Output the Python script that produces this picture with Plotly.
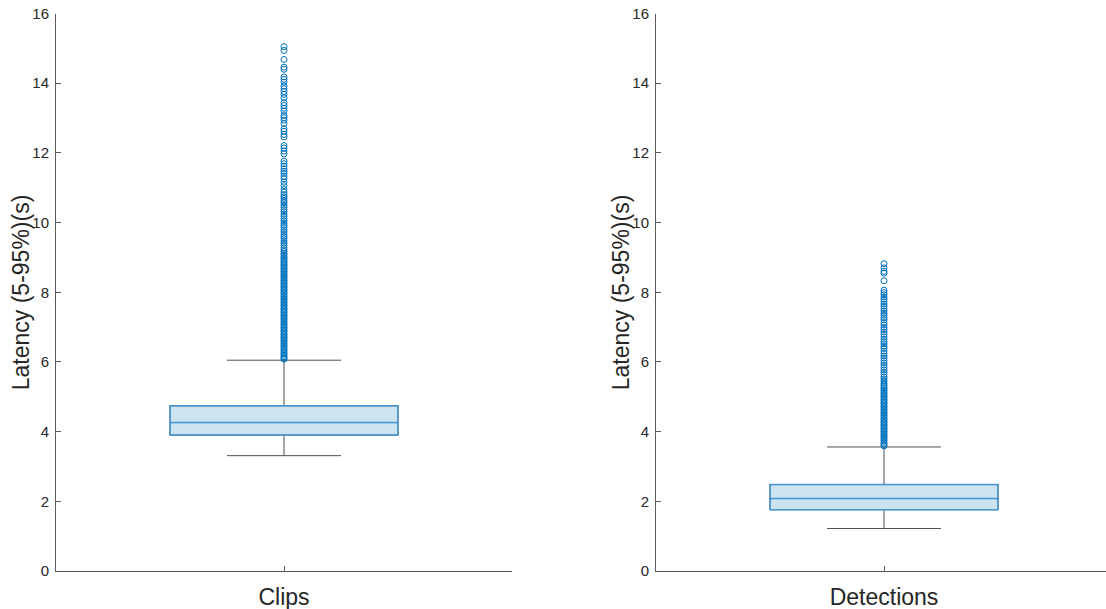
import plotly.graph_objects as go

# ---------------- data ----------------
categories = ["Clips", "Detections"]

q1 = [3.90, 1.76]
median = [4.26, 2.08]
q3 = [4.74, 2.48]
lower_whisker = [3.31, 1.22]
upper_whisker = [6.05, 3.56]

clips_outliers = [
    15.05, 14.94, 14.68, 14.46, 14.40, 14.18, 14.11, 14.03, 13.92, 13.84,
    13.76, 13.68, 13.58, 13.44, 13.36, 13.28, 13.20, 13.07, 13.01, 12.94,
    12.84, 12.69, 12.62, 12.53, 12.46, 12.21, 12.14, 12.05, 11.97, 11.76,
    11.69, 11.62, 11.54, 11.47, 11.41, 11.33, 11.26, 11.16, 11.06, 10.95,
    10.87, 10.80, 10.74, 10.69, 10.62, 10.57, 10.50, 10.44, 10.37, 10.31,
    10.24, 10.18, 10.11, 10.05, 9.98, 9.92, 9.86, 9.79, 9.73, 9.66,
    9.60, 9.54, 9.47, 9.41, 9.35, 9.28, 9.22, 9.17, 9.12, 9.08,
    9.03, 8.98, 8.94, 8.89, 8.85, 8.80, 8.76, 8.71, 8.67, 8.62,
    8.58, 8.53, 8.49, 8.44, 8.40, 8.35, 8.31, 8.26, 8.22, 8.17,
    8.13, 8.08, 8.04, 7.99, 7.95, 7.90, 7.86, 7.81, 7.77, 7.72,
    7.68, 7.63, 7.59, 7.54, 7.50, 7.45, 7.41, 7.36, 7.32, 7.27,
    7.23, 7.18, 7.14, 7.09, 7.05, 7.00, 6.96, 6.91, 6.87, 6.82,
    6.78, 6.73, 6.69, 6.64, 6.60, 6.55, 6.51, 6.46, 6.42, 6.37,
    6.33, 6.28, 6.24, 6.19, 6.15, 6.11, 6.08,
]

detections_outliers = [
    8.82, 8.70, 8.60, 8.55, 8.33, 8.06, 7.99, 7.93, 7.86, 7.80,
    7.73, 7.66, 7.60, 7.53, 7.46, 7.40, 7.34, 7.27, 7.21, 7.13,
    7.06, 6.99, 6.93, 6.86, 6.79, 6.72, 6.65, 6.58, 6.52, 6.45,
    6.39, 6.31, 6.24, 6.17, 6.11, 6.04, 5.97, 5.91, 5.84, 5.77,
    5.71, 5.64, 5.57, 5.51, 5.45, 5.39, 5.34, 5.29, 5.25, 5.20,
    5.16, 5.11, 5.07, 5.02, 4.98, 4.93, 4.89, 4.84, 4.80, 4.75,
    4.71, 4.66, 4.62, 4.57, 4.53, 4.48, 4.44, 4.39, 4.35, 4.30,
    4.26, 4.21, 4.17, 4.12, 4.08, 4.03, 3.99, 3.94, 3.90, 3.85,
    3.81, 3.76, 3.72, 3.67, 3.63, 3.59,
]
outliers = [clips_outliers, detections_outliers]

y_ticks = [0, 2, 4, 6, 8, 10, 12, 14, 16]
y_title = "Latency (5-95%)(s)"

# ---------------- style ----------------
BLUE = "#0072BD"
EDGE = "#4696d3"
FILL = "rgba(0,114,189,0.2)"
WHISK = "#4d4d4d"
TEXT = "#262626"
AXIS = "#5a5a5a"
FONT = "Liberation Sans, Arial, Helvetica, sans-serif"

W, H = 1106, 609
x_domains = [[56 / W, 512 / W], [656 / W, 1.0]]
y_domain = [(H - 571) / H, (H - 13.5) / H]
axis_px = 456.0
title_x_px = [21, 621]

fig = go.Figure()

for i, cat in enumerate(categories):
    xa = "x" if i == 0 else "x2"
    ya = "y" if i == 0 else "y2"
    # whiskers (gray)
    fig.add_trace(go.Box(
        x=[1], q1=[q1[i]], median=[median[i]], q3=[q3[i]],
        lowerfence=[lower_whisker[i]], upperfence=[upper_whisker[i]],
        width=1.0, whiskerwidth=0.5, boxpoints=False,
        line=dict(color=WHISK, width=1), fillcolor="rgba(0,0,0,0)",
        xaxis=xa, yaxis=ya, showlegend=False, hoverinfo="skip",
    ))
    # box (blue)
    fig.add_trace(go.Box(
        x=[1], q1=[q1[i]], median=[median[i]], q3=[q3[i]],
        lowerfence=[q1[i]], upperfence=[q3[i]],
        width=1.0, whiskerwidth=0, boxpoints=False,
        line=dict(color=EDGE, width=1.5), fillcolor=FILL,
        xaxis=xa, yaxis=ya, showlegend=False,
    ))
    # outliers
    fig.add_trace(go.Scatter(
        x=[1] * len(outliers[i]), y=outliers[i], mode="markers",
        marker=dict(symbol="circle-open", size=6, color=BLUE,
                    line=dict(width=1, color=BLUE)),
        xaxis=xa, yaxis=ya, showlegend=False,
    ))
    # y-axis title
    fig.add_annotation(
        text=y_title, textangle=-90, xref="paper", yref="paper",
        x=title_x_px[i] / W, y=sum(y_domain) / 2,
        xanchor="center", yanchor="middle", showarrow=False,
        font=dict(size=23, color=TEXT, family=FONT),
    )

common_y = dict(
    range=[0, 16], tickvals=y_ticks, ticks="inside", ticklen=5,
    tickcolor=AXIS, showline=True, linecolor=AXIS, linewidth=1,
    showgrid=False, zeroline=False, domain=y_domain,
    tickfont=dict(size=15, color=TEXT, family=FONT),
    ticklabelstandoff=3,
    automargin=False,
)
common_x = dict(
    ticks="inside", ticklen=5, tickcolor=AXIS, showline=True, linecolor=AXIS,
    linewidth=1, showgrid=False, zeroline=False, tickvals=[1],
    tickfont=dict(size=23, color=TEXT, family=FONT), automargin=False,
    ticklabelstandoff=5,
)

fig.update_layout(
    width=W, height=H,
    margin=dict(l=0, r=0, t=0, b=0),
    paper_bgcolor="white", plot_bgcolor="white",
    boxmode="overlay",
    font=dict(family=FONT, color=TEXT),
    xaxis=dict(common_x, domain=x_domains[0], range=[0, 2], ticktext=[categories[0]], anchor="y"),
    xaxis2=dict(common_x, domain=x_domains[1],
                range=[0, (x_domains[1][1] - x_domains[1][0]) * W / (axis_px / 2)],
                ticktext=[categories[1]], anchor="y2"),
    yaxis=dict(common_y, anchor="x"),
    yaxis2=dict(common_y, anchor="x2"),
)

fig.write_html("out.html")
